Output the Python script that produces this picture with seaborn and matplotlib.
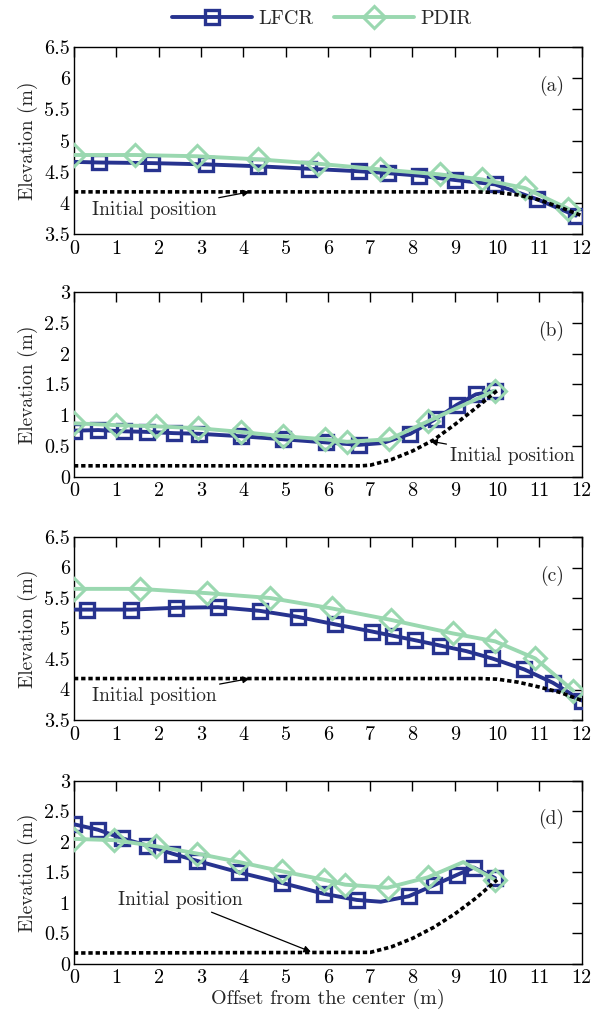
import numpy as np
import pandas as pd
import matplotlib
matplotlib.use("Agg")
import matplotlib.pyplot as plt
import seaborn as sns

sns.set_theme(style="white")
plt.rcParams['font.family'] = ['cmr10', 'DejaVu Serif']
plt.rcParams['mathtext.fontset'] = 'cm'
plt.rcParams['axes.formatter.use_mathtext'] = True

# ---------------- data ----------------
# panel (a)
a_lfcr_x = [0.0, 0.59, 1.85, 3.11, 4.34, 5.55, 6.73, 7.41, 8.15, 9.0, 9.95, 10.95, 11.86]
a_lfcr_y = [4.66, 4.65, 4.64, 4.62, 4.59, 4.55, 4.51, 4.48, 4.44, 4.37, 4.30, 4.06, 3.80]
a_lfcr_nomark = [0]
a_pdir_x = [0.0, 1.45, 2.91, 4.36, 5.77, 7.23, 8.64, 9.64, 10.66, 11.68]
a_pdir_y = [4.77, 4.77, 4.75, 4.70, 4.63, 4.54, 4.46, 4.38, 4.24, 3.91]
a_pdir_nomark = []
a_init_x = [0.0, 9.5, 10.0, 10.5, 11.0, 11.5, 12.0]
a_init_y = [4.18, 4.18, 4.17, 4.13, 4.05, 3.93, 3.80]

# panel (b)
b_lfcr_x = [0.0, 0.57, 1.18, 1.73, 2.36, 2.95, 3.95, 4.95, 5.95, 6.73, 7.3, 7.95, 8.55, 9.05, 9.5, 9.95]
b_lfcr_y = [0.75, 0.76, 0.74, 0.73, 0.71, 0.70, 0.66, 0.61, 0.56, 0.52, 0.55, 0.70, 0.94, 1.17, 1.34, 1.39]
b_lfcr_nomark = [10]
b_pdir_x = [0.0, 1.0, 1.95, 2.94, 3.94, 4.94, 5.94, 6.45, 7.45, 8.36, 9.95]
b_pdir_y = [0.87, 0.84, 0.82, 0.79, 0.73, 0.66, 0.61, 0.57, 0.61, 0.90, 1.40]
b_pdir_nomark = []
b_init_x = [0.0, 6.8, 7.0, 7.5, 8.0, 8.5, 9.0, 9.5, 10.0]
b_init_y = [0.18, 0.18, 0.19, 0.28, 0.42, 0.60, 0.85, 1.12, 1.40]

# panel (c)
c_lfcr_x = [0.0, 0.3, 1.36, 2.41, 3.41, 4.39, 5.3, 6.16, 7.05, 7.55, 8.05, 8.66, 9.27, 9.88, 10.64, 11.32, 12.0]
c_lfcr_y = [5.31, 5.31, 5.31, 5.34, 5.35, 5.29, 5.19, 5.07, 4.95, 4.88, 4.81, 4.72, 4.63, 4.51, 4.33, 4.11, 3.82]
c_lfcr_nomark = [0]
c_pdir_x = [0.0, 1.55, 3.14, 4.64, 6.09, 7.5, 8.95, 9.95, 10.9, 11.8]
c_pdir_y = [5.65, 5.65, 5.58, 5.50, 5.33, 5.14, 4.92, 4.79, 4.51, 3.98]
c_pdir_nomark = []
c_init_x = [0.0, 9.6, 10.0, 10.5, 11.0, 11.5, 12.0]
c_init_y = [4.18, 4.18, 4.17, 4.12, 4.04, 3.95, 3.82]

# panel (d)
d_lfcr_x = [0.0, 0.57, 1.14, 1.73, 2.32, 2.91, 3.91, 4.91, 5.91, 6.68, 7.25, 7.91, 8.5, 9.05, 9.45, 9.95]
d_lfcr_y = [2.29, 2.20, 2.06, 1.94, 1.81, 1.69, 1.50, 1.33, 1.15, 1.05, 1.02, 1.11, 1.29, 1.46, 1.58, 1.41]
d_lfcr_nomark = [10]
d_pdir_x = [0.0, 0.95, 1.95, 2.91, 3.91, 4.91, 5.91, 6.41, 7.41, 8.36, 9.2, 9.95]
d_pdir_y = [2.05, 2.03, 1.93, 1.81, 1.67, 1.52, 1.38, 1.30, 1.25, 1.42, 1.67, 1.38]
d_pdir_nomark = [10]
d_init_x = [0.0, 7.0, 7.5, 8.0, 8.5, 9.0, 9.5, 10.0]
d_init_y = [0.18, 0.19, 0.28, 0.42, 0.60, 0.82, 1.08, 1.38]

panel_labels = ["(a)", "(b)", "(c)", "(d)"]
y_limits = [(3.5, 6.5), (0, 3), (3.5, 6.5), (0, 3)]
x_ticks = list(range(0, 13))
annot_text = "Initial position"
# (text x, text y, arrow tip x, arrow tip y, ha)
annots = [(0.42, 3.89, 4.15, 4.18, 'left'),
          (8.88, 0.34, 8.42, 0.58, 'left'),
          (0.42, 3.89, 4.15, 4.18, 'left'),
          (1.05, 1.05, 5.6, 0.20, 'left')]

series_lfcr = [(a_lfcr_x, a_lfcr_y, a_lfcr_nomark), (b_lfcr_x, b_lfcr_y, b_lfcr_nomark),
               (c_lfcr_x, c_lfcr_y, c_lfcr_nomark), (d_lfcr_x, d_lfcr_y, d_lfcr_nomark)]
series_pdir = [(a_pdir_x, a_pdir_y, a_pdir_nomark), (b_pdir_x, b_pdir_y, b_pdir_nomark),
               (c_pdir_x, c_pdir_y, c_pdir_nomark), (d_pdir_x, d_pdir_y, d_pdir_nomark)]
series_init = [(a_init_x, a_init_y), (b_init_x, b_init_y), (c_init_x, c_init_y), (d_init_x, d_init_y)]

LFCR_C = "#27338f"
PDIR_C = "#9ad8b0"
FS = 14

fig = plt.figure(figsize=(6.01, 10.19), dpi=100)
left, right = 0.123, 0.968
boxes = [(0.770, 0.954), (0.532, 0.7134), (0.2934, 0.473), (0.054, 0.2336)]

def mark_idx(n, nomark):
    return [i for i in range(n) if i not in nomark]

handles = None
for i, (b0, b1) in enumerate(boxes):
    ax = fig.add_axes([left, b0, right - left, b1 - b0])
    lx, ly, lno = series_lfcr[i]
    px, py, pno = series_pdir[i]
    ix, iy = series_init[i]
    df_l = pd.DataFrame({"x": lx, "y": ly})
    df_p = pd.DataFrame({"x": px, "y": py})
    df_i = pd.DataFrame({"x": ix, "y": iy})
    sns.lineplot(data=df_l, x="x", y="y", ax=ax, sort=False, estimator=None,
                 color=LFCR_C, lw=2.8, marker='s', markersize=10, mfc='none',
                 mec=LFCR_C, mew=2.4, markevery=mark_idx(len(lx), lno),
                 label="LFCR", zorder=3)
    sns.lineplot(data=df_p, x="x", y="y", ax=ax, sort=False, estimator=None,
                 color=PDIR_C, lw=2.8, marker='D', markersize=11, mfc='none',
                 mec=PDIR_C, mew=2.2, markevery=mark_idx(len(px), pno),
                 label="PDIR", zorder=4)
    sns.lineplot(data=df_i, x="x", y="y", ax=ax, sort=False, estimator=None,
                 color="black", lw=2.6, dashes=False, zorder=5)
    ax.lines[-1].set_linestyle((0, (1.2, 0.8)))
    ax.set_xlim(0, 12)
    ax.set_ylim(*y_limits[i])
    ax.set_xticks(x_ticks)
    yt = np.arange(y_limits[i][0], y_limits[i][1] + 0.01, 0.5)
    ax.set_yticks(yt)
    ax.set_yticklabels([('%g' % v) for v in yt])
    ax.set_xticklabels([str(v) for v in x_ticks])
    ax.tick_params(direction='in', top=True, right=True, length=7, width=1.0,
                   labelsize=FS + 0.5, pad=4, colors='black')
    ax.tick_params(axis='y', pad=3)
    for s in ax.spines.values():
        s.set_visible(True)
        s.set_color('black')
        s.set_linewidth(1.0)
    ax.set_ylabel("Elevation (m)", fontsize=FS, labelpad=4)
    if i == 3:
        ax.set_xlabel("Offset from the center (m)", fontsize=FS + 0.5, labelpad=1)
    else:
        ax.set_xlabel("")
    ax.text(0.965, 0.79, panel_labels[i], transform=ax.transAxes, ha='right',
            va='center', fontsize=FS)
    tx, ty, ax_x, ax_y, ha = annots[i]
    ax.annotate(annot_text, xy=(ax_x, ax_y), xytext=(tx, ty), fontsize=FS,
                ha=ha, va='center',
                arrowprops=dict(arrowstyle='-|>', color='black', lw=0.9,
                                mutation_scale=10, shrinkA=0, shrinkB=0),
                zorder=6)
    if i == 0:
        handles, labs = ax.get_legend_handles_labels()
    leg = ax.get_legend()
    if leg is not None:
        leg.remove()

fig.legend(handles[:2], ["LFCR", "PDIR"], loc='upper center', ncol=2, frameon=False,
           bbox_to_anchor=(0.535, 1.008), fontsize=FS + 0.5, handlelength=4.0,
           columnspacing=1.0, handletextpad=0.3)

fig.savefig("out.png", dpi=100)
